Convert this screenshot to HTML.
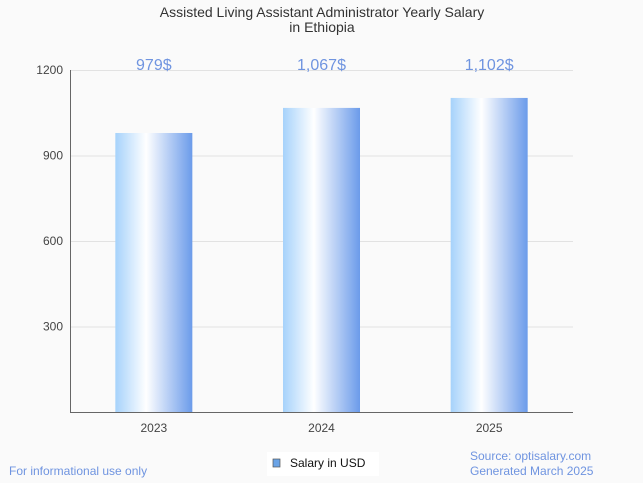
<!DOCTYPE html>
<html><head><meta charset="utf-8"><style>
body{margin:0;background:#fafafa;font-family:"Liberation Sans",sans-serif;}
svg{display:block}
</style></head><body>
<svg id="c" width="643" height="483" viewBox="0 0 643 483">
<defs><linearGradient id="g" x1="0" x2="1" y1="0" y2="0">
<stop offset="0" stop-color="#a6d2fb"/><stop offset="0.4" stop-color="#ffffff"/><stop offset="1" stop-color="#6b9bea"/>
</linearGradient></defs>
<rect width="643" height="483" fill="#fafafa"/>
<text x="322" y="17" text-anchor="middle" font-size="14" fill="#333">Assisted Living Assistant Administrator Yearly Salary</text>
<text x="322" y="32" text-anchor="middle" font-size="14" fill="#333">in Ethiopia</text>
<g id="grid"></g><g id="bars"></g>
<line x1="70.5" y1="70" x2="70.5" y2="412.5" stroke="#666"/>
<line x1="70" y1="412.5" x2="573" y2="412.5" stroke="#666"/>
<rect x="267" y="452" width="112" height="24" fill="#fff"/>
<rect x="273" y="459" width="7" height="8" fill="#6aa3e6" stroke="#555" stroke-width="0.7"/>
<text x="290" y="467" font-size="12" fill="#111">Salary in USD</text>
<text x="9" y="475" font-size="12" fill="#6f94e0">For informational use only</text>
<text x="470" y="460" font-size="12" fill="#6f94e0">Source: optisalary.com</text>
<text x="470" y="475" font-size="12" fill="#6f94e0">Generated March 2025</text>
</svg>
<script>
const categories=["2023","2024","2025"];
const values=[979,1067,1102];
const valueLabels=["979$","1,067$","1,102$"];
const yTicks=[300,600,900,1200];
const NS="http://www.w3.org/2000/svg";
const x0=70,x1=573,yBase=412,yTop=70,yMax=1200;
const y=v=>yBase-(v/yMax)*(yBase-yTop);
const band=(x1-x0)/categories.length;
const xc=i=>x0+band*(i+0.5);
function mk(tag,attrs,parent,text){const e=document.createElementNS(NS,tag);for(const k in attrs)e.setAttribute(k,attrs[k]);if(text!==undefined)e.textContent=text;parent.appendChild(e);return e;}
const grid=document.getElementById('grid'),bars=document.getElementById('bars');
yTicks.forEach(t=>{
 const l=mk('line',{x1:x0,x2:x1,y1:y(t)+0.5,y2:y(t)+0.5,stroke:'#e2e2e2'},grid);
 
 
 const tx=mk('text',{x:63,y:y(t)+4,'text-anchor':'end','font-size':12,fill:'#444'},grid,String(t));
 
 
});
const bw=77;
categories.forEach((c,i)=>{
 const r=mk('rect',{x:xc(i)-bw/2,y:y(values[i]),width:bw,height:yBase-y(values[i]),fill:'url(#g)'},bars);
 
 
 const lb=mk('text',{x:xc(i),y:70,'text-anchor':'middle','font-size':16,fill:'#6f94e0'},bars,valueLabels[i]);
 
 
 const xl=mk('text',{x:xc(i),y:432,'text-anchor':'middle','font-size':12,fill:'#444'},bars,c);
 
 
});
</script>
</body></html>
